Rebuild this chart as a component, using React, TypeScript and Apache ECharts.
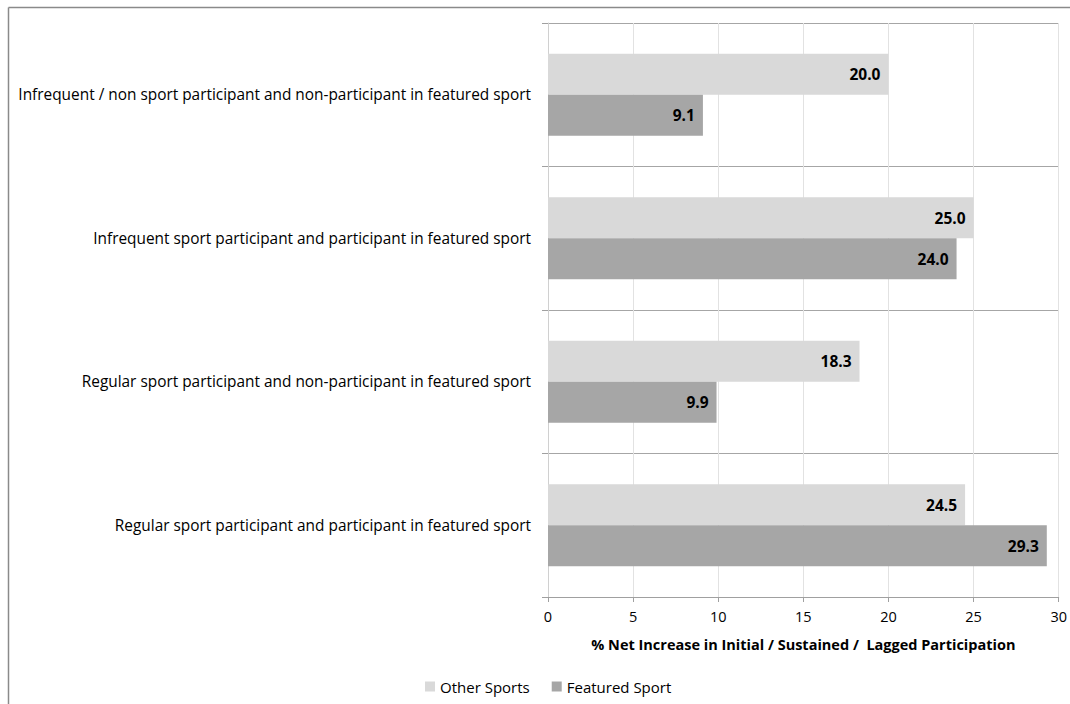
import React, { useEffect, useRef } from "react";
import * as echarts from "echarts";

const categories = [
  "Infrequent / non sport participant and non-participant in featured sport",
  "Infrequent sport participant and participant in featured sport",
  "Regular sport participant and non-participant in featured sport",
  "Regular sport participant and participant in featured sport",
];
const otherSports = [20.0, 25.0, 18.3, 24.5];
const featuredSport = [9.1, 24.0, 9.9, 29.3];
const seriesNames = ["Other Sports", "Featured Sport"];
const xAxisName = "% Net Increase in Initial / Sustained /  Lagged Participation";

const FONT = "'Open Sans', Lato, sans-serif";

export default function App() {
  const ref = useRef<HTMLDivElement>(null);
  useEffect(() => {
    if (!ref.current) return;
    const chart = echarts.init(ref.current, null, { renderer: "svg" });
    const label = {
      show: true,
      position: "insideRight",
      distance: 8,
      fontFamily: FONT,
      fontSize: 15.5,
      fontWeight: "bold",
      color: "#000",
      formatter: (p: any) => Number(p.value).toFixed(1),
    };
    chart.setOption({
      animation: false,
      backgroundColor: "#fff",
      textStyle: { fontFamily: FONT },
      graphic: [
        { type: "line", shape: { x1: 8.5, y1: 7.5, x2: 1070, y2: 7.5 }, style: { stroke: "#8a8a8a", lineWidth: 1.5 } },
        { type: "line", shape: { x1: 8.5, y1: 7.5, x2: 8.5, y2: 704 }, style: { stroke: "#8a8a8a", lineWidth: 1.5 } },
      ],
      grid: { left: 548, right: 11, top: 23, bottom: 107, containLabel: false },
      legend: {
        data: seriesNames,
        left: 420,
        top: 674,
        icon: "rect",
        itemWidth: 10,
        itemHeight: 10,
        itemGap: 22,
        textStyle: { fontFamily: FONT, fontSize: 15, color: "#000" },
      },
      xAxis: {
        type: "value",
        min: 0,
        max: 30,
        interval: 5,
        name: xAxisName,
        nameLocation: "middle",
        nameGap: 40,
        nameTextStyle: { fontFamily: FONT, fontSize: 14.5, fontWeight: "bold", color: "#000" },
        axisLine: { show: true, lineStyle: { color: "#a0a0a0" } },
        axisTick: { show: true, length: 5, lineStyle: { color: "#a0a0a0" } },
        axisLabel: { fontFamily: FONT, fontSize: 14.5, color: "#000", margin: 12 },
        splitLine: { show: true, lineStyle: { color: "#e2e2e2" } },
      },
      yAxis: {
        type: "category",
        inverse: true,
        data: categories,
        axisLine: { show: true, lineStyle: { color: "#d0d0d0" } },
        axisTick: { show: true, length: 6, lineStyle: { color: "#a0a0a0" } },
        axisLabel: { fontFamily: FONT, fontSize: 15.4, color: "#000", margin: 17 },
        splitLine: { show: true, lineStyle: { color: "#a6a6a6" } },
      },
      series: [
        {
          name: seriesNames[0],
          type: "bar",
          data: otherSports,
          barWidth: 41,
          barGap: "0%",
          itemStyle: { color: "#d9d9d9" },
          label,
        },
        {
          name: seriesNames[1],
          type: "bar",
          data: featuredSport,
          barWidth: 41,
          barGap: "0%",
          itemStyle: { color: "#a6a6a6" },
          label,
        },
      ],
    });
    return () => chart.dispose();
  }, []);
  return (
    <div
      ref={ref}
      style={{ position: "absolute", left: 0, top: 0, width: 1070, height: 704 }}
    />
  );
}
